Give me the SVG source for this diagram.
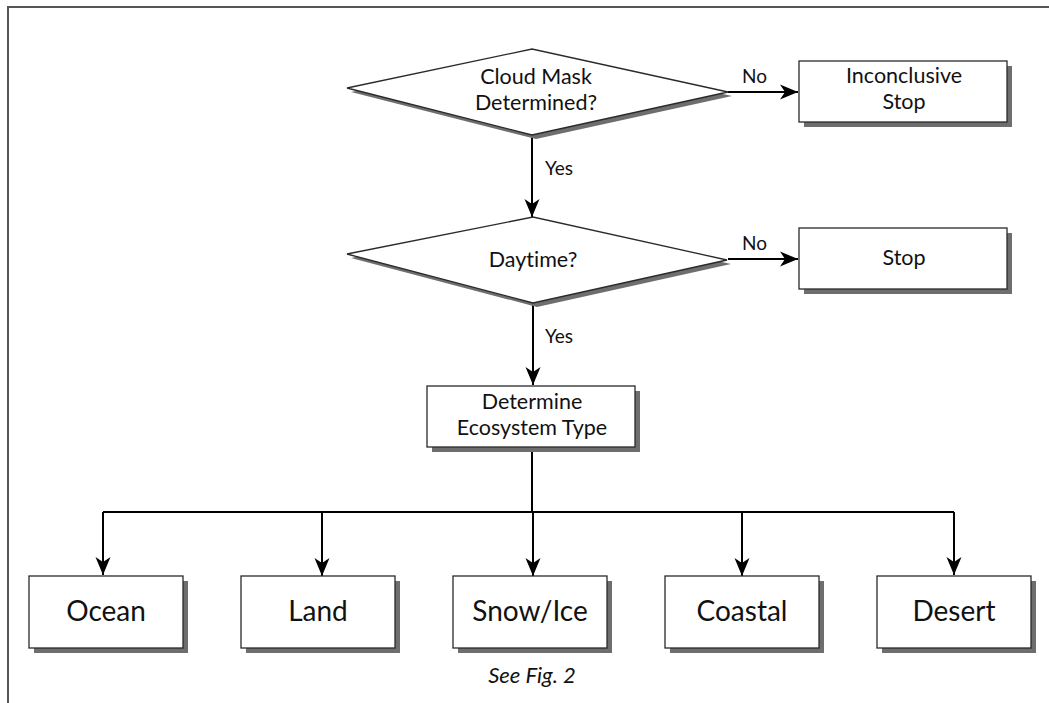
<svg xmlns="http://www.w3.org/2000/svg" width="1049" height="703" viewBox="0 0 1049 703">
<style>
  .shadow { fill: #6e6e6e; stroke: none; }
  .shape { fill: #ffffff; stroke: #2a2a2a; stroke-width: 1.3; }
  .conn { fill: none; stroke: #000; stroke-width: 2; }
  text { font-family: Lato, "Open Sans", "Liberation Sans", sans-serif; fill: #111; text-anchor: middle; font-variant-ligatures: none; }
  .t { font-size: 21.5px; }
  .big { font-size: 28px; }
  .lbl { font-size: 19px; text-anchor: start; }
  .note { font-size: 22px; font-style: italic; }
  .frame { stroke: #555; stroke-width: 2; fill: none; }
</style>
<defs>
  <marker id="arr" viewBox="0 0 18 16" refX="18" refY="8" markerWidth="18" markerHeight="16" markerUnits="userSpaceOnUse" orient="auto">
    <path d="M0,0.5 L18,8 L0,15.5 L5,8 z" fill="#000"/>
  </marker>
</defs>
<rect width="1049" height="703" fill="#fff"/>
<path class="frame" d="M8,703 L8,7 L1049,7"/>

<g id="connectors">
  <path class="conn" d="M532,135 L532,217" marker-end="url(#arr)"/>
  <path class="conn" d="M728,92 L798,92" marker-end="url(#arr)"/>
  <path class="conn" d="M728,259 L798,259" marker-end="url(#arr)"/>
  <path class="conn" d="M533,303 L533,385" marker-end="url(#arr)"/>
  <path class="conn" d="M532,447 L532,512"/>
  <path class="conn" d="M103,512 L954,512"/>
  <path class="conn" d="M103,512 L103,575" marker-end="url(#arr)"/>
  <path class="conn" d="M322,512 L322,576" marker-end="url(#arr)"/>
  <path class="conn" d="M533,512 L533,576" marker-end="url(#arr)"/>
  <path class="conn" d="M742,512 L742,576" marker-end="url(#arr)"/>
  <path class="conn" d="M954,512 L954,575" marker-end="url(#arr)"/>
  <text class="lbl" x="545" y="175">Yes</text>
  <text class="lbl" x="545" y="343">Yes</text>
  <text class="lbl" x="742" y="83">No</text>
  <text class="lbl" x="742" y="250">No</text>
</g>

<g id="cloudmask">
  <polygon class="shadow" points="351,92 536,53 732,96 536,139"/>
  <polygon class="shape" points="347,88 532,49 728,92 532,135"/>
  <text class="t" x="536" y="84">Cloud Mask</text>
  <text class="t" x="536" y="110">Determined?</text>
</g>

<g id="inconclusive">
  <rect class="shadow" x="804" y="66" width="208" height="61"/>
  <rect class="shape" x="799" y="61" width="208" height="61"/>
  <text class="t" x="904" y="83">Inconclusive</text>
  <text class="t" x="904" y="109">Stop</text>
</g>

<g id="daytime">
  <polygon class="shadow" points="351,258 537,221 731,264 537,307"/>
  <polygon class="shape" points="347,254 533,217 727,260 533,303"/>
  <text class="t" x="533" y="267">Daytime?</text>
</g>

<g id="stop">
  <rect class="shadow" x="804" y="233" width="208" height="61"/>
  <rect class="shape" x="799" y="228" width="208" height="61"/>
  <text class="t" x="904" y="265">Stop</text>
</g>

<g id="ecosystem">
  <rect class="shadow" x="432" y="391" width="208" height="61"/>
  <rect class="shape" x="427" y="386" width="208" height="61"/>
  <text class="t" x="532" y="409">Determine</text>
  <text class="t" x="532" y="435">Ecosystem Type</text>
</g>

<g id="ocean">
  <rect class="shadow" x="34" y="581" width="154" height="72"/>
  <rect class="shape" x="29" y="576" width="154" height="72"/>
  <text class="big" x="106" y="621">Ocean</text>
</g>

<g id="land">
  <rect class="shadow" x="246" y="581" width="154" height="72"/>
  <rect class="shape" x="241" y="576" width="154" height="72"/>
  <text class="big" x="318" y="621">Land</text>
</g>

<g id="snowice">
  <rect class="shadow" x="458" y="581" width="154" height="72"/>
  <rect class="shape" x="453" y="576" width="154" height="72"/>
  <text class="big" x="530" y="621">Snow/Ice</text>
</g>

<g id="coastal">
  <rect class="shadow" x="670" y="581" width="154" height="72"/>
  <rect class="shape" x="665" y="576" width="154" height="72"/>
  <text class="big" x="742" y="621">Coastal</text>
</g>

<g id="desert">
  <rect class="shadow" x="882" y="581" width="154" height="72"/>
  <rect class="shape" x="877" y="576" width="154" height="72"/>
  <text class="big" x="954" y="621">Desert</text>
</g>

<text class="note" x="532" y="683">See Fig. 2</text>
</svg>
